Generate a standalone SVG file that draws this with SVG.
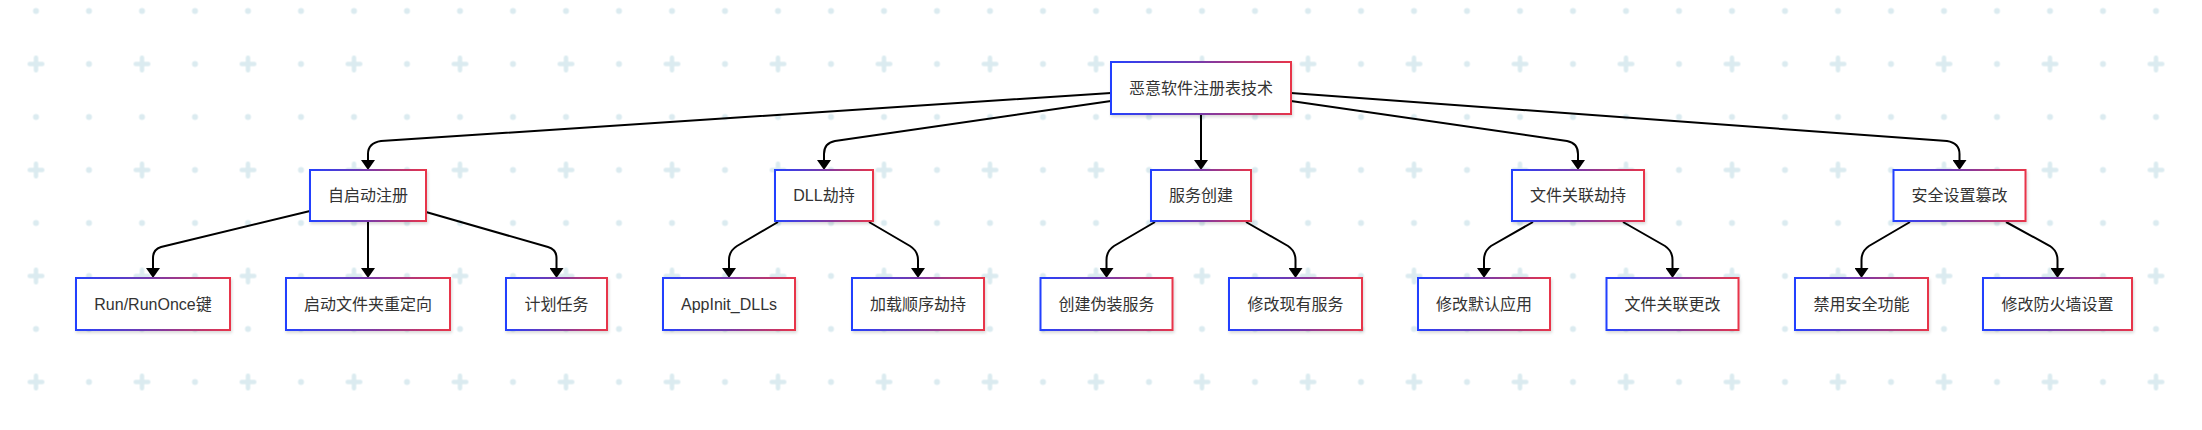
<svg xmlns="http://www.w3.org/2000/svg" width="2202" height="430" viewBox="0 0 2202 430">
<defs>
<pattern id="bg" patternUnits="userSpaceOnUse" x="9.5" y="37.5" width="106" height="106">
<path d="M20.25,26.5 H32.75 M26.5,20.25 V32.75" stroke="#dbebf0" stroke-width="4.5" stroke-linecap="round" fill="none"/>
<circle cx="79.5" cy="26.5" r="3" fill="#dbebf0"/>
<circle cx="26.5" cy="79.5" r="3" fill="#dbebf0"/>
<circle cx="79.5" cy="79.5" r="3" fill="#dbebf0"/>
</pattern>
<linearGradient id="grad" x1="0" y1="0" x2="1" y2="0">
<stop offset="0" stop-color="#2340ff"/>
<stop offset="0.5" stop-color="#7a3aa8"/>
<stop offset="1" stop-color="#e8344a"/>
</linearGradient>
<filter id="sh" x="-10%" y="-20%" width="120%" height="150%">
<feDropShadow dx="1" dy="2" stdDeviation="1.5" flood-color="#000" flood-opacity="0.15"/>
</filter>
<marker id="arr" markerUnits="userSpaceOnUse" viewBox="0 0 10 14" refX="8" refY="7" markerWidth="10" markerHeight="14" orient="auto">
<path d="M0,0 L10,7 L0,14 z" fill="#000"/>
</marker>
</defs>
<style>
.node rect{fill:#fff;stroke:url(#grad);stroke-width:2;filter:url(#sh)}
.node text{font-family:"Liberation Sans","Noto Sans CJK SC",sans-serif;font-size:16px;fill:#333;text-anchor:middle;dominant-baseline:central}
#edges path{fill:none;stroke:#000;stroke-width:2;marker-end:url(#arr)}
</style>
<rect width="2202" height="430" fill="#fff"/>
<rect width="2202" height="430" fill="url(#bg)"/>
<g id="edges">
<path d="M1111,93 L381,141 Q368,143 368,154 L368,168"/>
<path d="M1111,101 L835,141 Q824,143 824,154 L824,168"/>
<path d="M1201,114 L1201,168"/>
<path d="M1291,101 L1567,141 Q1578,143 1578,154 L1578,168"/>
<path d="M1291,93 L1947,141 Q1959.5,143 1959.5,154 L1959.5,168"/>
<path d="M310,211 L161,247 Q153,249.5 153,258 L153,276"/>
<path d="M368,221 L368,276"/>
<path d="M426,212 L548,247 Q556.5,249.5 556.5,258 L556.5,276"/>
<path d="M778,222 L737,246 Q729,251 729,260 L729,276"/>
<path d="M869,222 L910,246 Q918,251 918,260 L918,276"/>
<path d="M1155,222 L1114,246 Q1106.5,251 1106.5,260 L1106.5,276"/>
<path d="M1246,222 L1288,246 Q1295.5,251 1295.5,260 L1295.5,276"/>
<path d="M1533,222 L1491,246 Q1484,251 1484,260 L1484,276"/>
<path d="M1623,222 L1665,246 Q1672.5,251 1672.5,260 L1672.5,276"/>
<path d="M1910,222 L1869,246 Q1861.5,251 1861.5,260 L1861.5,276"/>
<path d="M2006,222 L2050,246 Q2057.5,251 2057.5,260 L2057.5,276"/>
</g>
<g id="root" class="node"><rect x="1111" y="62" width="180" height="52"/><text x="1201" y="88">恶意软件注册表技术</text></g>
<g id="autorun" class="node"><rect x="310" y="170" width="116" height="51"/><text x="368" y="195.5">自启动注册</text></g>
<g id="dll" class="node"><rect x="775" y="170" width="98" height="51"/><text x="824" y="195.5">DLL劫持</text></g>
<g id="service" class="node"><rect x="1151" y="170" width="100" height="51"/><text x="1201" y="195.5">服务创建</text></g>
<g id="fileassoc" class="node"><rect x="1512" y="170" width="132" height="51"/><text x="1578" y="195.5">文件关联劫持</text></g>
<g id="security" class="node"><rect x="1893.5" y="170" width="132" height="51"/><text x="1959.5" y="195.5">安全设置篡改</text></g>
<g id="runkey" class="node"><rect x="76" y="278" width="154" height="52"/><text x="153" y="304">Run/RunOnce键</text></g>
<g id="startup" class="node"><rect x="286" y="278" width="164" height="52"/><text x="368" y="304">启动文件夹重定向</text></g>
<g id="task" class="node"><rect x="506" y="278" width="101" height="52"/><text x="556.5" y="304">计划任务</text></g>
<g id="appinit" class="node"><rect x="663" y="278" width="132" height="52"/><text x="729" y="304">AppInit_DLLs</text></g>
<g id="loadorder" class="node"><rect x="852" y="278" width="132" height="52"/><text x="918" y="304">加载顺序劫持</text></g>
<g id="fakesvc" class="node"><rect x="1040.5" y="278" width="132" height="52"/><text x="1106.5" y="304">创建伪装服务</text></g>
<g id="modsvc" class="node"><rect x="1229" y="278" width="133" height="52"/><text x="1295.5" y="304">修改现有服务</text></g>
<g id="defapp" class="node"><rect x="1418" y="278" width="132" height="52"/><text x="1484" y="304">修改默认应用</text></g>
<g id="assocchg" class="node"><rect x="1606.5" y="278" width="132" height="52"/><text x="1672.5" y="304">文件关联更改</text></g>
<g id="disablesec" class="node"><rect x="1795" y="278" width="133" height="52"/><text x="1861.5" y="304">禁用安全功能</text></g>
<g id="firewall" class="node"><rect x="1983" y="278" width="149" height="52"/><text x="2057.5" y="304">修改防火墙设置</text></g>
</svg>
